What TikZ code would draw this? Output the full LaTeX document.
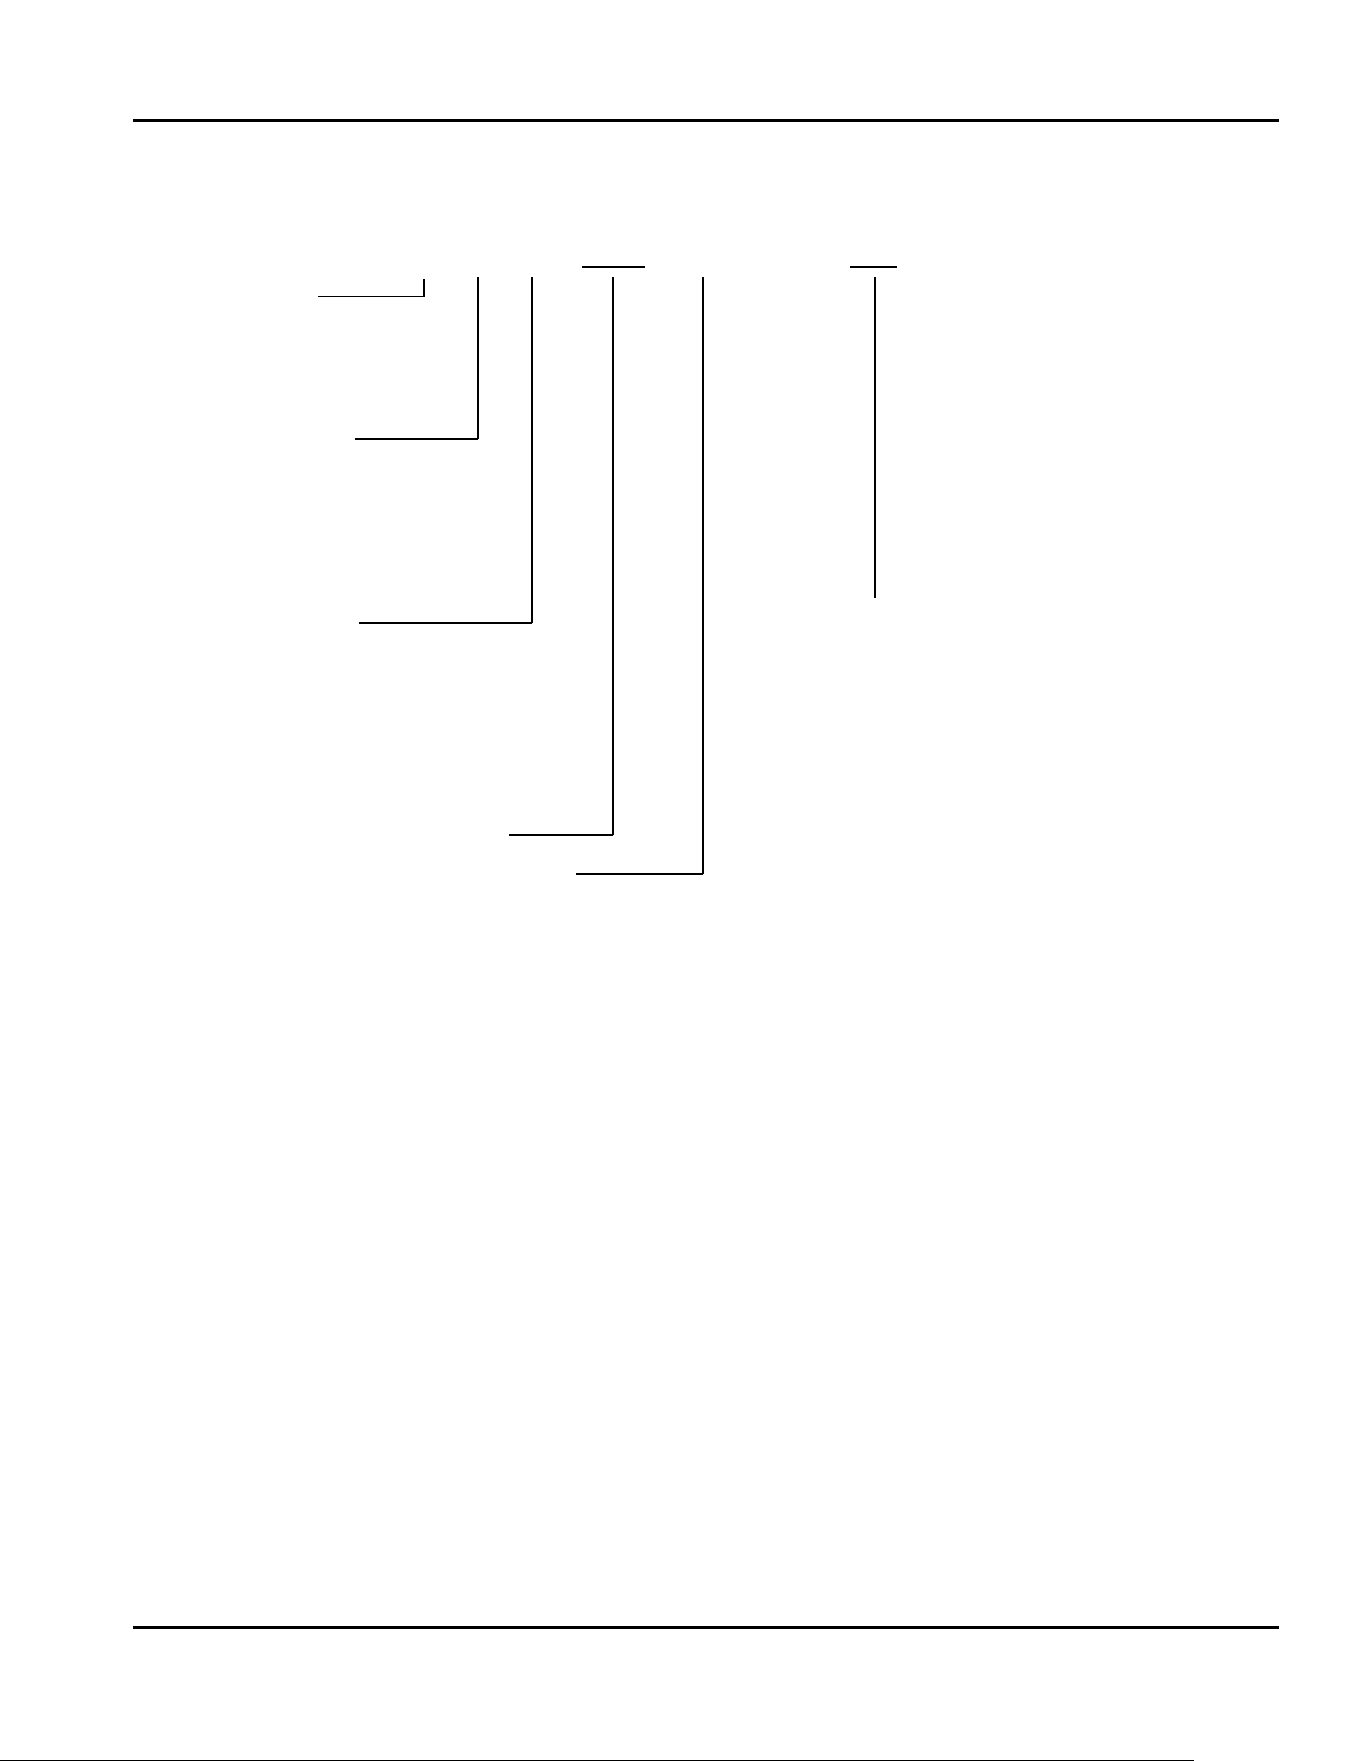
\documentclass[tikz,border=0pt]{standalone}
\begin{document}
\begin{tikzpicture}[x=0.5pt,y=-0.5pt,
    rule/.style={line width=1.5pt},
    leader/.style={line width=0.65pt},
    bar/.style={line width=1pt}]
    \useasboundingbox (0,0) rectangle (1361,1761);

    % page rules
    \coordinate (topL) at (133,120.5);
    \coordinate (topR) at (1279,120.5);
    \coordinate (botL) at (133,1627);
    \coordinate (botR) at (1279,1627);
    \draw[rule] (topL) -- (topR);
    \draw[rule] (botL) -- (botR);

    % leaders: name/x/top/bottom/left end/width of foot
    \foreach \name/\x/\t/\b/\l/\w in {a/424/279/296.5/318/0.8pt, b/478/277/439/355/1pt,
        c/532/277/623/359/1pt, d/613/277/835/509/1pt, e/703/277/874/576/0.6pt,
        f/875/277/598/875/0.6pt} {
        \coordinate (\name top) at (\x,\t);
        \coordinate (\name knee) at (\x,\b);
        \coordinate (\name foot) at (\l,\b);
        \draw[leader] (\name top) -- (\name knee);
        \draw[line width=\w] (\name knee) -- (\name foot);
    }

    % bars above leaders d and f
    \coordinate (dbarL) at (582,267);
    \coordinate (dbarR) at (645,267);
    \coordinate (fbarL) at (850,267);
    \coordinate (fbarR) at (897,267);
    \draw[bar] (dbarL) -- (dbarR);
    \draw[bar] (fbarL) -- (fbarR);

    % scan edge at the bottom
    \coordinate (edgeL) at (0,1760.5);
    \coordinate (edgeR) at (1194,1760.5);
    \draw[line width=0.5pt] (edgeL) -- (edgeR);
\end{tikzpicture}
\end{document}
